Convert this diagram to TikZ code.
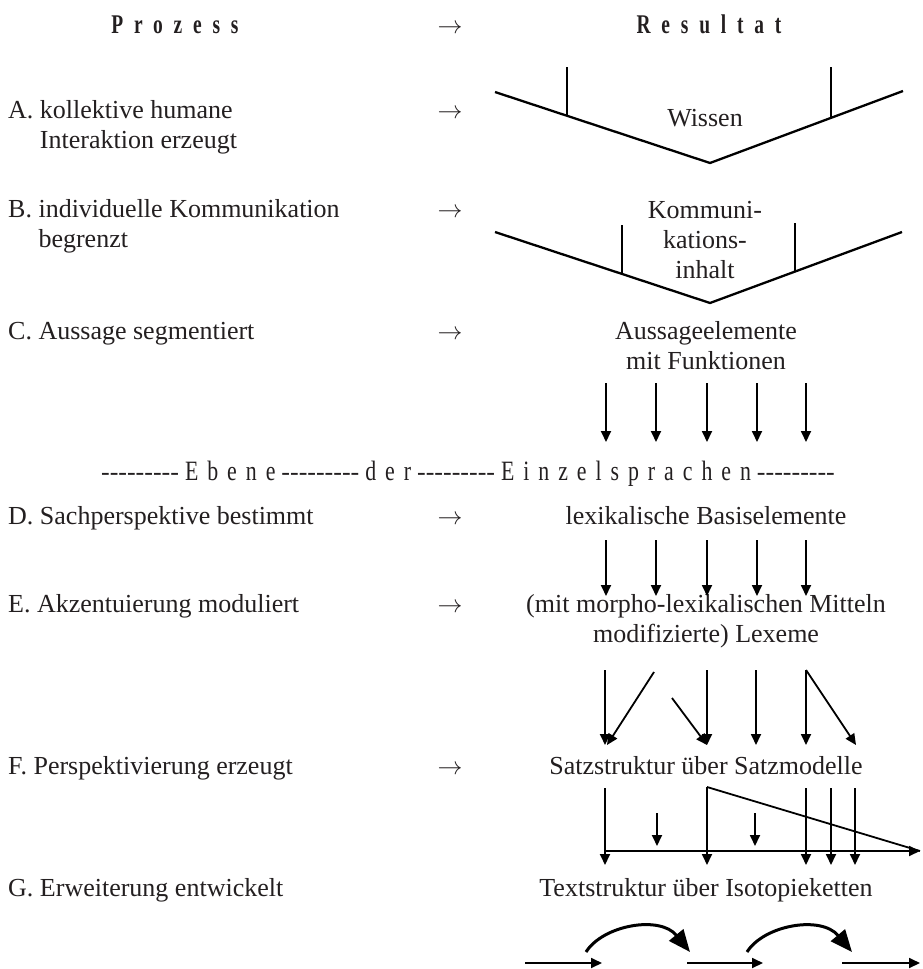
\documentclass[tikz,border=0pt]{standalone}
\usepackage{fontspec}
\setmainfont{Liberation Serif}
\newfontfamily\hdrfont{Liberation Serif}[FakeStretch=0.72,LetterSpace=40]
\newfontfamily\ebfont{Liberation Serif}[FakeStretch=0.78,LetterSpace=32]
\usetikzlibrary{arrows.meta,calc}
\definecolor{ink}{HTML}{231F20}
\newcommand\dd{-\kern0pt-\kern0pt-\kern0pt-\kern0pt-\kern0pt-\kern0pt-\kern0pt-\kern0pt-}
\begin{document}
\begin{tikzpicture}[x=1pt,y=-1pt,
  txt/.style={inner sep=0pt, anchor=base, text=ink, font=\fontsize{26}{30}\selectfont},
  ltxt/.style={txt, anchor=base west},
  arr/.style={line width=1.8pt, -{Triangle[length=11pt,width=10pt]}},
  vline/.style={line width=2.3pt},
  tick/.style={line width=2pt},
  curv/.style={line width=3pt, -{Triangle[length=22pt,width=18pt]}}]
\useasboundingbox (0,0) rectangle (923,969);
% header
\node[txt] (proz) at (175,33) {\fontsize{27}{30}\hdrfont\bfseries Prozess};
\node[txt] (harr) at (450,33) {$\rightarrow$};
\node[txt] (res) at (709,33) {\fontsize{27}{30}\hdrfont\bfseries Resultat};
% left column
\node[ltxt] (A) at (8,118) {\begin{tabular}[t]{@{}l@{\ }l@{}}A. & kollektive humane\\ & Interaktion erzeugt\end{tabular}};
\node[ltxt] (B) at (8,217) {\begin{tabular}[t]{@{}l@{\ }l@{}}B. & individuelle Kommunikation\\ & begrenzt\end{tabular}};
\node[ltxt] (C) at (8,339) {C. Aussage segmentiert};
\node[ltxt] (D) at (8,524) {D. Sachperspektive bestimmt};
\node[ltxt] (E) at (8,612) {E. Akzentuierung moduliert};
\node[ltxt] (F) at (8,774) {F. Perspektivierung erzeugt};
\node[ltxt] (G) at (8,896) {G. Erweiterung entwickelt};
% row arrows
\node[txt] (aA) at (450,118) {$\rightarrow$};
\node[txt] (aB) at (450,217) {$\rightarrow$};
\node[txt] (aC) at (450,339) {$\rightarrow$};
\node[txt] (aD) at (450,524) {$\rightarrow$};
\node[txt] (aE) at (450,612) {$\rightarrow$};
\node[txt] (aF) at (450,774) {$\rightarrow$};
% right column
\node[txt] (wissen) at (705,126) {Wissen};
\node[txt] (kom) at (705,218) {\begin{tabular}[t]{@{}c@{}}Kommuni-\\kations-\\inhalt\end{tabular}};
\node[txt] (aus) at (706,339) {\begin{tabular}[t]{@{}c@{}}Aussageelemente\\mit Funktionen\end{tabular}};
\node[txt] (lex) at (706,524) {lexikalische Basiselemente};
\node[txt] (mod) at (706,612) {\begin{tabular}[t]{@{}c@{}}(mit morpho-lexikalischen Mitteln\\modifizierte) Lexeme\end{tabular}};
\node[txt] (satz) at (706,774) {Satzstruktur über Satzmodelle};
\node[txt] (text) at (706,896) {Textstruktur über Isotopieketten};
% Ebene line
\node[txt] (ebene) at (468,480) {\dd\hspace{6pt}{\fontsize{28}{30}\ebfont Ebene}\hspace{6pt}\dd\hspace{6pt}{\fontsize{28}{30}\ebfont der}\hspace{6pt}\dd\hspace{6pt}{\fontsize{28}{30}\ebfont Einzelsprachen}\hspace{6pt}\dd};
% V shapes
\coordinate (v1l) at (495,92); \coordinate (v1b) at (710,163); \coordinate (v1r) at (903,91);
\draw[vline] (v1l) -- (v1b) -- (v1r);
\coordinate (t1a) at (567,67); \coordinate (t1b) at (567,115.8);
\coordinate (t2a) at (831,67); \coordinate (t2b) at (831,117.9);
\draw[tick] (t1a) -- (t1b); \draw[tick] (t2a) -- (t2b);
\coordinate (v2l) at (495,232); \coordinate (v2b) at (710,303); \coordinate (v2r) at (902,232);
\draw[vline] (v2l) -- (v2b) -- (v2r);
\coordinate (t3a) at (622,225); \coordinate (t3b) at (622,273.9);
\coordinate (t4a) at (795,223); \coordinate (t4b) at (795,271.6);
\draw[tick] (t3a) -- (t3b); \draw[tick] (t4a) -- (t4b);
% C arrows and D arrows
\foreach \x [count=\i] in {606,656,707,757,806} {
  \coordinate (c\i a) at (\x,383); \coordinate (c\i b) at (\x,442);
  \draw[arr] (c\i a) -- (c\i b);
  \coordinate (d\i a) at (\x,540); \coordinate (d\i b) at (\x,596);
  \draw[arr] (d\i a) -- (d\i b);
}
% E -> F arrows
\coordinate (e1a) at (605,670); \coordinate (e1b) at (605,745);
\coordinate (e2a) at (654,672); \coordinate (e2b) at (607,745);
\coordinate (e3a) at (672,698); \coordinate (e3b) at (707,745);
\coordinate (e4a) at (707,670); \coordinate (e4b) at (707,745);
\coordinate (e5a) at (756,670); \coordinate (e5b) at (756,745);
\coordinate (e6a) at (806,670); \coordinate (e6b) at (806,745);
\coordinate (e7b) at (856,745);
\draw[arr] (e1a) -- (e1b);
\draw[arr] (e2a) -- (e2b);
\draw[arr] (e3a) -- (e3b);
\draw[arr] (e4a) -- (e4b);
\draw[arr] (e5a) -- (e5b);
\draw[arr] (e6a) -- (e6b);
\draw[arr] (e6a) -- (e7b);
% F -> G structure
\coordinate (f1a) at (605,788); \coordinate (f1b) at (605,865);
\coordinate (f2a) at (707,787); \coordinate (f2b) at (707,865);
\coordinate (f3a) at (806,788); \coordinate (f3b) at (806,865);
\coordinate (f4a) at (831,788); \coordinate (f4b) at (831,865);
\coordinate (f5a) at (855,788); \coordinate (f5b) at (855,865);
\coordinate (hl) at (605,851); \coordinate (hr) at (920,851);
\coordinate (s1a) at (657,813); \coordinate (s1b) at (657,846);
\coordinate (s2a) at (755,813); \coordinate (s2b) at (755,846);
\foreach \i in {1,...,5} {\draw[arr] (f\i a) -- (f\i b);}
\draw[arr] (hl) -- (hr);
\draw[line width=1.8pt] (f2a) -- (hr);
\draw[arr] (s1a) -- (s1b);
\draw[arr] (s2a) -- (s2b);
% bottom arrows
\coordinate (b1a) at (525,963); \coordinate (b1b) at (602,963);
\coordinate (b2a) at (687,963); \coordinate (b2b) at (763,963);
\coordinate (b3a) at (842,963); \coordinate (b3b) at (920,963);
\draw[arr] (b1a) -- (b1b);
\draw[arr] (b2a) -- (b2b);
\draw[arr] (b3a) -- (b3b);
\coordinate (k1a) at (586,952); \coordinate (k1b) at (690,952);
\coordinate (k2a) at (747,952); \coordinate (k2b) at (852,952);
\draw[curv] (k1a) .. controls (603,925) and (660,915) .. (k1b);
\draw[curv] (k2a) .. controls (764,925) and (821,915) .. (k2b);
\end{tikzpicture}
\end{document}
